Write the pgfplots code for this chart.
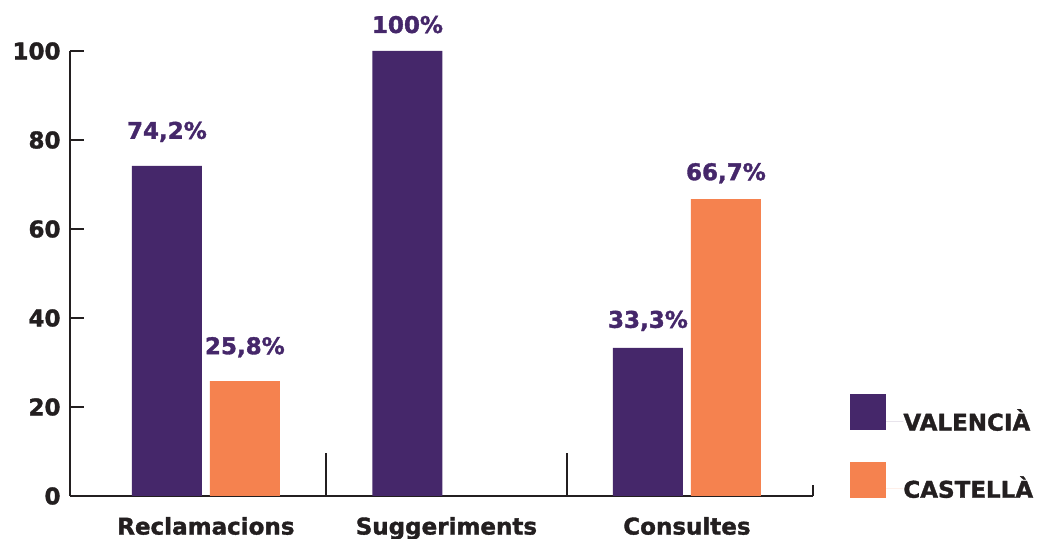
\documentclass[border=0pt]{standalone}
\usepackage{pgfplots}
\pgfplotsset{compat=1.18}
\usepackage{pgfplotstable}
\usepackage{fontspec}
\setmainfont{DejaVu Sans}[BoldFeatures={FakeBold=1.5}]

\definecolor{valencia}{HTML}{45276A}
\definecolor{castella}{HTML}{F5824F}
\definecolor{ink}{HTML}{231F20}

% x: 0 Reclamacions, 1 Suggeriments, 2 Consultes; off = gap label/bar (pt)
\pgfplotstableread{
x y off
0 74.2 13.5
1 100 9
2 33.3 10
}\valenciadata
\pgfplotstableread{
x y off
0 25.8 13.5
2 66.7 9.5
}\castelladata

\begin{document}
\begin{tikzpicture}[font=\fontsize{11.5}{13}\selectfont\bfseries]
\useasboundingbox (-35pt,-21.5pt) rectangle (485pt,248pt);
\begin{axis}[
    at={(0,0)}, anchor=south west,
    scale only axis,
    width=371.5pt, height=222.5pt,
    xmin=-0.565, xmax=2.524,
    ymin=0, ymax=100,
    clip=false,
    axis x line*=bottom,
    axis y line*=left,
    axis line style={ink, line width=1pt},
    ytick={0,20,...,100},
    ytick pos=left,
    tick align=inside,
    major tick length=7pt,
    tick style={ink, line width=1pt},
    xtick={0,1,2},
    xticklabels={Reclamacions,Suggeriments,Consultes},
    x tick style={draw=none},
    /pgf/number format/assume math mode=true,
    ticklabel style={text=ink},
    yticklabel style={xshift=-1.2pt},
    ybar,
    bar width=0.291,
    nodes near coords={\pgfmathprintnumber[use comma,fixed,precision=1]{\pgfplotspointmeta}\%},
    visualization depends on={\thisrow{off} \as \labeloff},
    every node near coord/.append style={text=valencia, anchor=base, yshift=\labeloff},
    legend style={at={(1.0498,0.2292)}, anchor=north west, draw=none, fill=none,
        inner sep=0pt, row sep=14pt, text=ink,
        nodes={inner sep=0pt}},
    legend cell align=left,
    legend image code/.code={\fill[#1, draw=none] (0pt,-4.5pt) rectangle (18pt,13.5pt);
        \path (0pt,0pt) -- (26.5pt,0pt);},
]
\addplot[fill=valencia, draw=none, bar shift=-0.162] table[x=x, y=y] {\valenciadata};
\addlegendentry{VALENCIÀ}
\addplot[fill=castella, draw=none, bar shift=0.162] table[x=x, y=y] {\castelladata};
\addlegendentry{CASTELLÀ}

\draw[ink, line width=1pt] (axis cs:0.5,0) -- (axis cs:0.5,9.7);
\draw[ink, line width=1pt] (axis cs:1.5,0) -- (axis cs:1.5,9.7);
\draw[ink, line width=1pt] (axis cs:2.524,0) -- (axis cs:2.524,2.4);
\end{axis}
\end{tikzpicture}
\end{document}
